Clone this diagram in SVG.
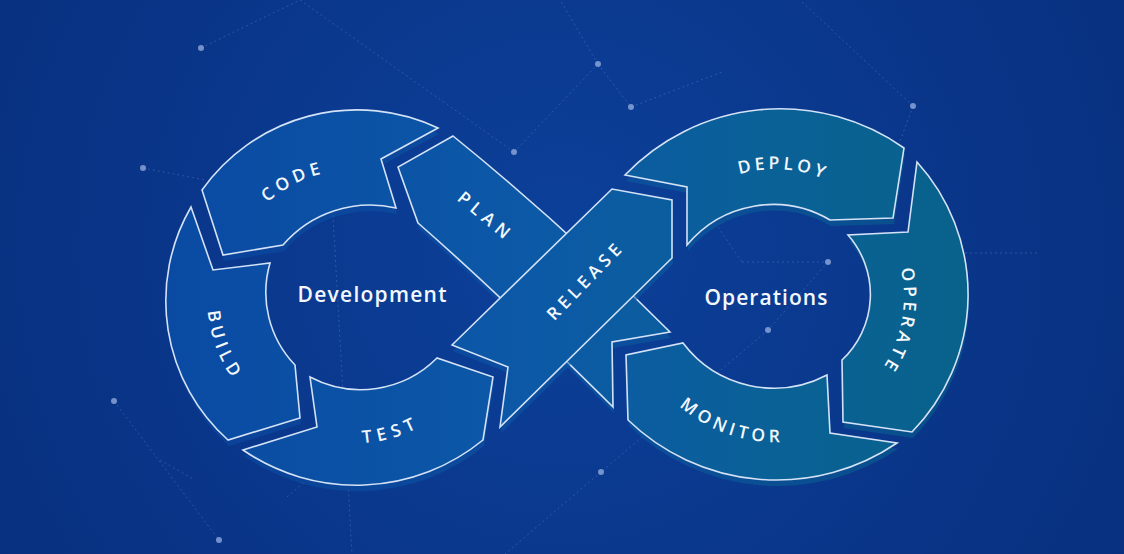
<svg xmlns="http://www.w3.org/2000/svg" width="1124" height="554" viewBox="0 0 1124 554">
  <defs>
    <radialGradient id="bg" cx="560" cy="250" r="680" gradientUnits="userSpaceOnUse">
      <stop offset="0" stop-color="#0c409a"/>
      <stop offset="1" stop-color="#082f7e"/>
    </radialGradient>
    <linearGradient id="band" x1="170" y1="0" x2="970" y2="0" gradientUnits="userSpaceOnUse">
      <stop offset="0" stop-color="#0a4aa3"/>
      <stop offset="0.45" stop-color="#0c59a7"/>
      <stop offset="0.75" stop-color="#0a6197"/>
      <stop offset="1" stop-color="#08628a"/>
    </linearGradient>
    <style>
      .seg { fill: url(#band); stroke: #d3e2f6; stroke-width: 1.6; stroke-linejoin: miter; }
      .depth { fill: url(#band); opacity: 0.55; }
      .lbl { font-family: "Open Sans", "Liberation Sans", sans-serif; font-weight: 600; font-size: 17.5px; fill: #f4f8fd; text-anchor: middle; }
      .hub { font-family: "Open Sans", "Liberation Sans", sans-serif; font-weight: 600; font-size: 21px; fill: #f4f8fd; text-anchor: middle; dominant-baseline: central; }
      .guide { fill: none; stroke: none; }
      .net line { stroke: #7395d6; stroke-opacity: 0.33; stroke-width: 1; stroke-dasharray: 2 3; }
      .net circle { fill: #8fa8dc; fill-opacity: 0.8; }
    </style>
    <!-- segment outlines -->
    <path id="g-plan" d="M453,136 Q562,224 670,332 L612,342 L613,407 Q497,292 418,223 L398,167 Z"/>
    <path id="g-code" d="M438,128 A190 190 0 0 0 202,190 L223,255 L283,245 A115 115 0 0 1 396,208 L381,159 Z"/>
    <path id="g-build" d="M191,207 L213,270 L270,263 A105 105 0 0 0 295,365 L300,418 L228,440 A187 187 0 0 1 191,207 Z"/>
    <path id="g-test" d="M310,377 A108 108 0 0 0 437,358 L493,377 L483,440 A200 200 0 0 1 243,450 L317,427 Z"/>
    <path id="g-release" d="M452,345 L612,189 L672,200 L672,258 L500,427 L508,367 Z"/>
    <path id="g-deploy" d="M625,175 L687,187 L687,245 A112 112 0 0 1 830,220 L893,218 L904,148 A215 215 0 0 0 625,175 Z"/>
    <path id="g-operate" d="M917,162 L908,232 L848,235 A90 90 0 0 1 842,360 L843,422 L912,432 A197 197 0 0 0 917,162 Z"/>
    <path id="g-monitor" d="M827,375 A114 114 0 0 1 683,343 L626,355 L628,420 A214 214 0 0 0 897,443 L830,433 Z"/>
    <!-- label baselines, following each ring -->
    <path id="t-code" class="guide" d="M219.3,289.6 A133 133 0 0 1 424.8,185.7"/>
    <path id="t-build" class="guide" d="M244.6,208.8 A139 139 0 0 0 329.3,434.1"/>
    <path id="t-test" class="guide" d="M254.6,398.2 A140.5 140.5 0 0 0 488.4,330.7"/>
    <path id="t-deploy" class="guide" d="M663.6,222.5 A134 134 0 0 1 895.2,237.8"/>
    <path id="t-operate" class="guide" d="M863.4,195.0 A135 135 0 0 1 819.2,424.6"/>
    <path id="t-monitor" class="guide" d="M638.6,323.5 A139 139 0 0 0 866.2,401.9"/>
  </defs>

  <rect width="1124" height="554" fill="url(#bg)"/>

  <!-- faint network in the background -->
  <g id="network" class="net">
    <line x1="201" y1="48" x2="300" y2="0"/>
    <line x1="300" y1="0" x2="514" y2="152"/>
    <line x1="514" y1="152" x2="598" y2="64"/>
    <line x1="598" y1="64" x2="631" y2="107"/>
    <line x1="631" y1="107" x2="722" y2="72"/>
    <line x1="598" y1="64" x2="560" y2="0"/>
    <line x1="913" y1="106" x2="800" y2="0"/>
    <line x1="913" y1="106" x2="882" y2="190"/>
    <line x1="143" y1="168" x2="205" y2="180"/>
    <line x1="960" y1="253" x2="1040" y2="253"/>
    <line x1="718" y1="227" x2="742" y2="262"/>
    <line x1="742" y1="262" x2="828" y2="262"/>
    <line x1="828" y1="262" x2="768" y2="330"/>
    <line x1="768" y1="330" x2="601" y2="472"/>
    <line x1="601" y1="472" x2="505" y2="554"/>
    <line x1="114" y1="401" x2="219" y2="540"/>
    <line x1="333" y1="215" x2="352" y2="554"/>
    <line x1="160" y1="460" x2="195" y2="480"/>
    <line x1="287" y1="497" x2="330" y2="460"/>
    <circle cx="201" cy="48" r="3"/>
    <circle cx="598" cy="64" r="3"/>
    <circle cx="631" cy="107" r="3"/>
    <circle cx="514" cy="152" r="3"/>
    <circle cx="913" cy="106" r="3"/>
    <circle cx="143" cy="168" r="3"/>
    <circle cx="828" cy="262" r="3"/>
    <circle cx="768" cy="330" r="3"/>
    <circle cx="114" cy="401" r="3"/>
    <circle cx="601" cy="472" r="3"/>
    <circle cx="219" cy="540" r="3"/>
  </g>

  <g id="plan">
    <use href="#g-plan" class="depth" transform="translate(1,6)"/>
    <use href="#g-plan" class="seg"/>
    <text class="lbl" transform="translate(484,215) rotate(40)" dy="0.35em" textLength="62" lengthAdjust="spacing">PLAN</text>
  </g>
  <g id="code">
    <use href="#g-code" class="depth" transform="translate(1,6)"/>
    <use href="#g-code" class="seg"/>
    <text class="lbl" dy="0.35em" letter-spacing="5.5"><textPath href="#t-code" startOffset="50%">CODE</textPath></text>
  </g>
  <g id="build">
    <use href="#g-build" class="depth" transform="translate(1,6)"/>
    <use href="#g-build" class="seg"/>
    <text class="lbl" dy="0.35em" letter-spacing="4.2"><textPath href="#t-build" startOffset="50%">BUILD</textPath></text>
  </g>
  <g id="test">
    <use href="#g-test" class="depth" transform="translate(1,6)"/>
    <use href="#g-test" class="seg"/>
    <text class="lbl" dy="0.35em" letter-spacing="5"><textPath href="#t-test" startOffset="50%">TEST</textPath></text>
  </g>
  <g id="release">
    <use href="#g-release" class="depth" transform="translate(1,6)"/>
    <use href="#g-release" class="seg"/>
    <text class="lbl" transform="translate(584,282) rotate(-46)" dy="0.35em" textLength="98" lengthAdjust="spacing">RELEASE</text>
  </g>
  <g id="deploy">
    <use href="#g-deploy" class="depth" transform="translate(1,6)"/>
    <use href="#g-deploy" class="seg"/>
    <text class="lbl" dy="0.35em" letter-spacing="4.3"><textPath href="#t-deploy" startOffset="50%">DEPLOY</textPath></text>
  </g>
  <g id="operate">
    <use href="#g-operate" class="depth" transform="translate(1,6)"/>
    <use href="#g-operate" class="seg"/>
    <text class="lbl" dy="0.35em" letter-spacing="4.8"><textPath href="#t-operate" startOffset="50%">OPERATE</textPath></text>
  </g>
  <g id="monitor">
    <use href="#g-monitor" class="depth" transform="translate(1,6)"/>
    <use href="#g-monitor" class="seg"/>
    <text class="lbl" dy="0.35em" letter-spacing="3.6"><textPath href="#t-monitor" startOffset="50%">MONITOR</textPath></text>
  </g>

  <g id="development">
    <text class="hub" x="372" y="294" textLength="149" lengthAdjust="spacing">Development</text>
  </g>
  <g id="operations">
    <text class="hub" x="766" y="297" textLength="123" lengthAdjust="spacing">Operations</text>
  </g>
</svg>
